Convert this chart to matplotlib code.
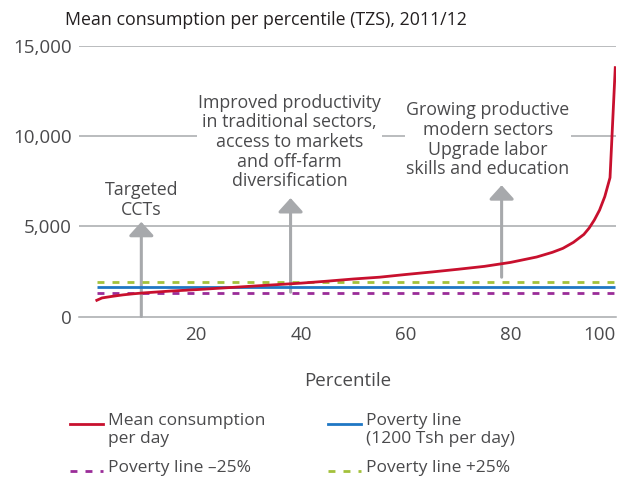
import matplotlib
matplotlib.use("Agg")
import matplotlib.pyplot as plt
from matplotlib.lines import Line2D

plt.rcParams["font.family"] = ["Open Sans", "DejaVu Sans"]

# mean consumption per percentile
pct = [1, 2, 4, 6, 8, 10, 15, 20, 25, 30, 35, 40, 45, 50, 55, 60, 65, 70, 75, 80,
       85, 88, 90, 92, 94, 95, 96, 97, 98, 99, 100]
cons = [900, 1030, 1120, 1200, 1260, 1310, 1410, 1490, 1580, 1670, 1760, 1850, 1960,
        2080, 2180, 2330, 2470, 2620, 2780, 3000, 3300, 3560, 3780, 4110, 4550, 4900,
        5350, 5900, 6650, 7700, 13800]
pov_line = 1630
pov_minus = 1330
pov_plus = 1940

# annotation arrows: x, start, tip, label, label x, label y
arrows_x = [9.5, 38, 78.3]
arrows_from = [0, 1350, 2180]
arrows_to = [5250, 6570, 7280]
notes = ["Targeted\nCCTs",
         "Improved productivity\nin traditional sectors,\naccess to markets\nand off-farm\ndiversification",
         "Growing productive\nmodern sectors\nUpgrade labor\nskills and education"]
notes_x = [9.5, 37.8, 75.7]
notes_y = [6450, 9680, 9790]

yticks = [0, 5000, 10000, 15000]
ytick_labels = ["0", "5,000", "10,000", "15,000"]
xticks = [20, 40, 60, 80, 100]

RED, BLUE, PURPLE, GREEN = "#c8102e", "#1f77c4", "#9a2c98", "#a3c13b"
GRAY, TXT = "#a7a9ac", "#4a4a4c"
DASH = (0, (2.5, 2.9))

fig = plt.figure(figsize=(6.33, 4.93), dpi=100)
ax = fig.add_axes([0.1248, 0.358, 0.848, 0.5487])

for y in yticks[1:]:
    ax.axhline(y, color=GRAY, lw=1.1, zorder=1)

for x, y0, y1 in zip(arrows_x, arrows_from, arrows_to):
    ax.annotate("", xy=(x, y1), xytext=(x, y0), zorder=2,
                arrowprops=dict(arrowstyle="-|>,head_width=0.38,head_length=0.42",
                                mutation_scale=20, lw=2.2, color=GRAY,
                                shrinkA=0, shrinkB=0))

ax.hlines(pov_plus, 1, 100, color=GREEN, lw=2.0, ls=DASH, zorder=3)
ax.hlines(pov_line, 1, 100, color=BLUE, lw=2.0, zorder=3)
ax.hlines(pov_minus, 1, 100, color=PURPLE, lw=2.0, ls=DASH, zorder=3)
ax.plot(pct, cons, color=RED, lw=2.0, zorder=4)

for t, x, y in zip(notes, notes_x, notes_y):
    ax.text(x, y, t, ha="center", va="center", fontsize=12.8, color=TXT,
            linespacing=1.12, zorder=5,
            bbox=dict(facecolor="white", edgecolor="none", pad=1))

ax.set_xlim(-2.4, 100.1)
ax.set_ylim(0, 15000)
ax.set_yticks(yticks)
ax.set_yticklabels(ytick_labels)
ax.set_xticks(xticks)
ax.tick_params(length=0, labelsize=13.5, labelcolor=TXT)
ax.tick_params(axis="x", pad=7)
ax.tick_params(axis="y", pad=5)
ax.get_xticklabels()[-1].set_ha("right")
for s in ["top", "right", "left"]:
    ax.spines[s].set_visible(False)
ax.spines["bottom"].set_color(GRAY)
ax.spines["bottom"].set_linewidth(1.1)
ax.set_xlabel("Percentile", fontsize=13.5, color=TXT, labelpad=20)

fig.text(65 / 633, 1 - 20 / 493, "Mean consumption per percentile (TZS), 2011/12",
         fontsize=12.8, color="#231f20", ha="left", va="center")

# legend drawn by hand so the key sits on the first text line
H, W = 493, 633
entries = [
    (70, 424, RED, "-", "Mean consumption\nper day"),
    (328, 424, BLUE, "-", "Poverty line\n(1200 Tsh per day)"),
    (70, 471, PURPLE, DASH, "Poverty line \u201325%"),
    (328, 471, GREEN, DASH, "Poverty line +25%"),
]
for x, y, c, ls, lab in entries:
    fig.add_artist(Line2D([x / W, (x + 33) / W], [1 - y / H, 1 - y / H],
                          color=c, lw=2.0, ls=ls, transform=fig.transFigure))
    fig.text((x + 38) / W, 1 - (y - 11) / H, lab, fontsize=12.5, color=TXT,
             ha="left", va="top", linespacing=1.15)

fig.savefig("out.png", dpi=100)
